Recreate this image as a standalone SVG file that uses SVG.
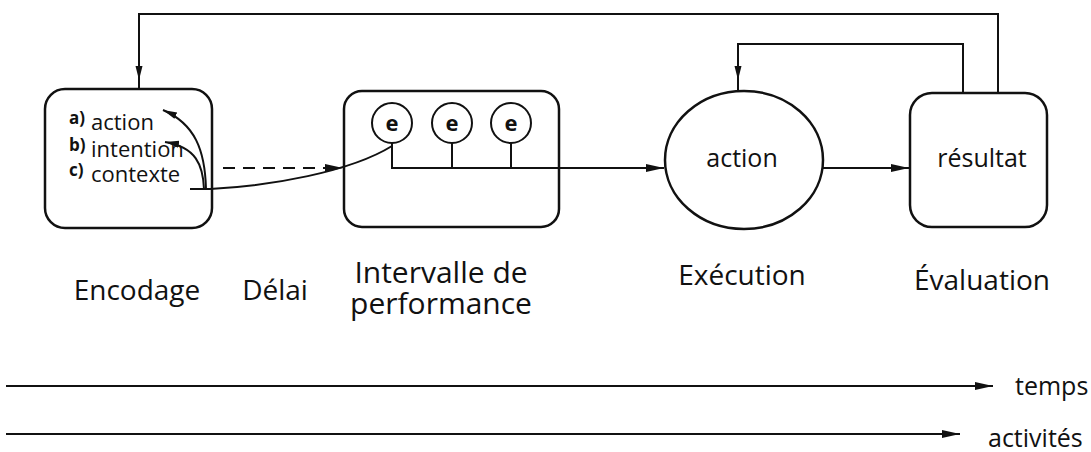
<svg xmlns="http://www.w3.org/2000/svg" width="1091" height="452" viewBox="0 0 1091 452">
<defs>
<style>
.box{fill:none;stroke:#111;stroke-width:2.5}
.ln{fill:none;stroke:#111;stroke-width:2}
.t{font-family:"Open Sans","Noto Sans",sans-serif;fill:#111}
.lab{font-size:28px;text-anchor:middle}
.lab2{font-size:30px;text-anchor:middle}
.in{font-size:22px}
.sm{font-size:17px;font-weight:bold}
.e{font-size:22px;font-weight:bold;text-anchor:middle}
</style>
<marker id="ah" markerUnits="userSpaceOnUse" markerWidth="20" markerHeight="10" refX="18" refY="5" orient="auto">
<path d="M0,1 L18,5 L0,9 z" fill="#111"/>
</marker>
<marker id="ahs" markerUnits="userSpaceOnUse" markerWidth="16" markerHeight="10" refX="14" refY="5" orient="auto">
<path d="M0,1.5 L14,5 L0,8.5 z" fill="#111"/>
</marker>
</defs>
<rect width="1091" height="452" fill="#fff"/>

<g id="connectors">
<path class="ln" d="M998,93 V14 H139 V80" marker-end="url(#ahs)"/>
<path class="ln" d="M139,78 V89"/>
<path class="ln" d="M963,93 V44 H738 V80" marker-end="url(#ahs)"/>
<path class="ln" d="M738,78 V91"/>
<path class="ln" d="M223,168 H343" stroke-dasharray="12,8" marker-end="url(#ah)"/>
<path class="ln" d="M190,189 H210 C270,186 350,172 392,146"/>
<path class="ln" d="M206,189 C205,150 195,124 163,110" marker-end="url(#ahs)"/>
<path class="ln" d="M204,189 C203,165 196,147 165,142" marker-end="url(#ahs)"/>
<path class="ln" d="M392,143 V168 H664" marker-end="url(#ah)"/>
<path class="ln" d="M452,143 V168"/>
<path class="ln" d="M511,143 V168"/>
<path class="ln" d="M823,168 H909" marker-end="url(#ah)"/>
<path class="ln" d="M6,386 H993" marker-end="url(#ah)"/>
<path class="ln" d="M6,434 H960" marker-end="url(#ah)"/>
</g>

<g id="encodage">
<rect class="box" x="45" y="89" width="167" height="139" rx="20"/>
<text class="t sm" x="69" y="124">a)</text>
<text class="t in" x="91" y="130">action</text>
<text class="t sm" x="69" y="151">b)</text>
<text class="t in" x="91" y="157">intention</text>
<text class="t sm" x="69" y="176">c)</text>
<text class="t in" x="91" y="182">contexte</text>
</g>

<g id="intervalle">
<rect class="box" x="344" y="91" width="215" height="136" rx="18"/>
<circle class="ln" cx="392" cy="123" r="20"/>
<circle class="ln" cx="452" cy="123" r="20"/>
<circle class="ln" cx="511" cy="123" r="20"/>
<text class="t e" x="392" y="131">e</text>
<text class="t e" x="452" y="131">e</text>
<text class="t e" x="511" y="131">e</text>
</g>

<g id="action">
<ellipse class="box" cx="744" cy="160" rx="79" ry="69"/>
<text class="t" x="742" y="167" font-size="25" text-anchor="middle">action</text>
</g>

<g id="resultat">
<rect class="box" x="910" y="93" width="137" height="134" rx="22"/>
<text class="t" x="982" y="167" font-size="25" text-anchor="middle">résultat</text>
</g>

<g id="labels">
<text class="t lab" x="137" y="300">Encodage</text>
<text class="t lab" x="275" y="300">Délai</text>
<text class="t lab2" x="441" y="283">Intervalle de</text>
<text class="t lab2" x="441" y="314">performance</text>
<text class="t lab" x="742" y="285">Exécution</text>
<text class="t lab" x="982" y="290">Évaluation</text>
<text class="t" x="1015" y="395" font-size="25">temps</text>
<text class="t" x="988" y="447" font-size="25">activités</text>
</g>
</svg>
